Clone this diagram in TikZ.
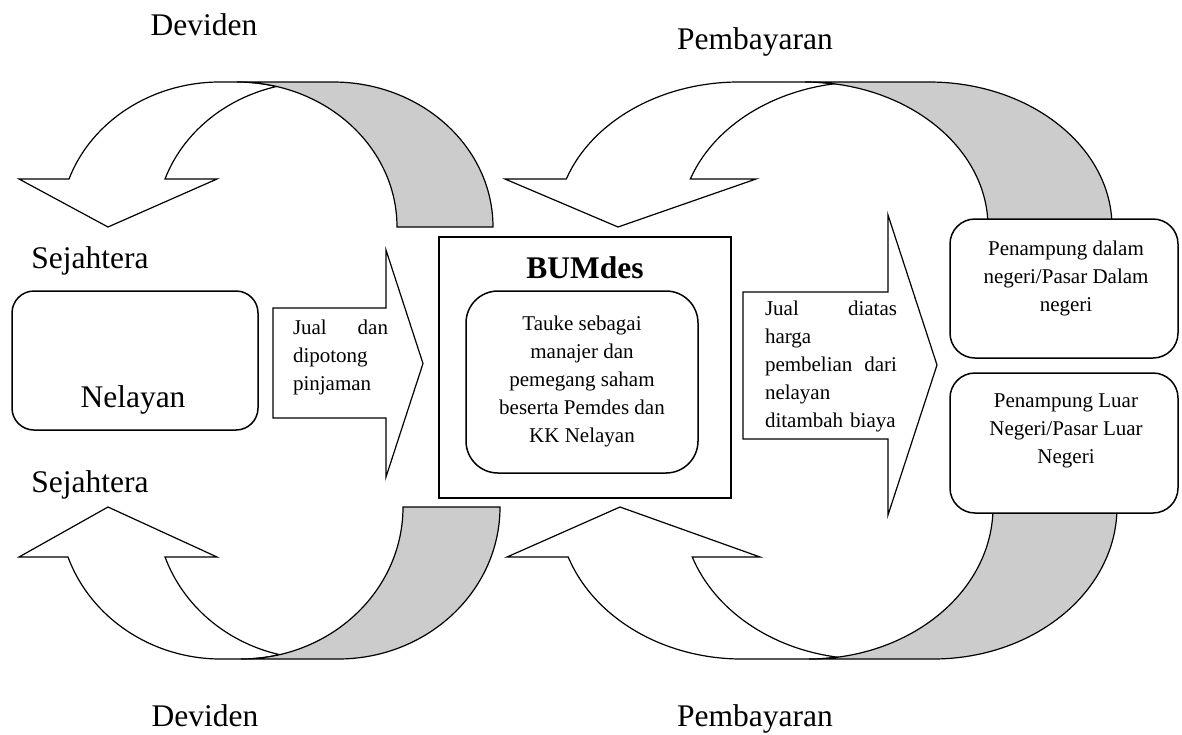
\documentclass[tikz,border=0pt]{standalone}
\usepackage{fontspec}
\setmainfont{Liberation Serif}
\definecolor{shade}{RGB}{204,204,204}
\begin{document}
\begin{tikzpicture}[x=1pt,y=1pt,line join=miter,
  outline/.style={draw=black,line width=1.2pt},
  bigtxt/.style={font=\fontsize{31.5}{36}\selectfont,inner sep=0pt},
  smalltxt/.style={font=\fontsize{21}{28}\selectfont,inner sep=0pt},
  rbox/.style={draw=black,line width=1.5pt,fill=white,inner sep=0pt,rounded corners=25pt}]
\useasboundingbox (0,0) rectangle (1182,-734);
% ---- top-left curved arrow
\path[outline,fill=white] (69,-179) arc[start angle=160.67,end angle=90,x radius=160,y radius=145]
  -- (237,-82) arc[start angle=90,end angle=75.71,x radius=160,y radius=145]
  arc[start angle=104.29,end angle=160.67,x radius=160,y radius=145]
  -- (217,-179) -- (108,-227) -- (19,-179) -- cycle;
\path[outline,fill=shade] (237,-82) arc[start angle=90,end angle=0,x radius=160,y radius=145]
  -- (493,-227) arc[start angle=0,end angle=90,x radius=160,y radius=145] -- cycle;
% ---- top-right curved arrow
\path[outline,fill=white] (566.3,-179) arc[start angle=160.67,end angle=90,x radius=183,y radius=145]
  -- (805,-82) arc[start angle=90,end angle=80.88,x radius=183,y radius=145]
  arc[start angle=99.12,end angle=160.67,x radius=183,y radius=145]
  -- (756,-179) -- (618,-227) -- (505,-179) -- cycle;
\path[outline,fill=shade] (805,-82) arc[start angle=90,end angle=0,x radius=183,y radius=145]
  -- (1112,-227) arc[start angle=0,end angle=90,x radius=183,y radius=145] -- cycle;
% ---- bottom-left curved arrow
\path[outline,fill=white] (68,-557) arc[start angle=199.2,end angle=270,x radius=162,y radius=152]
  -- (241,-659) arc[start angle=270,end angle=283.75,x radius=162,y radius=152]
  arc[start angle=256.25,end angle=199.2,x radius=162,y radius=152]
  -- (217,-557) -- (108,-507) -- (19,-557) -- cycle;
\path[outline,fill=shade] (241,-659) arc[start angle=270,end angle=360,x radius=162,y radius=152]
  -- (500,-507) arc[start angle=360,end angle=270,x radius=162,y radius=152] -- cycle;
% ---- bottom-right curved arrow
\path[outline,fill=white] (568.2,-557) arc[start angle=199.2,end angle=270,x radius=184,y radius=152]
  -- (809,-659) arc[start angle=270,end angle=278.91,x radius=184,y radius=152]
  arc[start angle=261.09,end angle=199.2,x radius=184,y radius=152]
  -- (760,-557) -- (620,-507) -- (507,-557) -- cycle;
\path[outline,fill=shade] (809,-659) arc[start angle=270,end angle=360,x radius=184,y radius=152]
  -- (1117,-507) arc[start angle=360,end angle=270,x radius=184,y radius=152] -- cycle;
% ---- block arrows
\path[outline,fill=white] (273,-308) -- (386,-308) -- (386,-250) -- (423,-363.5)
  -- (386,-477) -- (386,-418) -- (273,-418) -- cycle;
\path[outline,fill=white] (743,-292) -- (888,-292) -- (888,-215) -- (937,-365)
  -- (888,-515) -- (888,-439) -- (743,-439) -- cycle;
% ---- boxes
\node[rbox,rounded corners=22pt,minimum width=246pt,minimum height=139pt] (nelayanbox) at (135,-360.5) {};
\node[draw=black,line width=2pt,fill=white,minimum width=292pt,minimum height=261pt,inner sep=0pt] (bumdes) at (585,-367.5) {};
\node[rbox,rounded corners=32pt,minimum width=232pt,minimum height=182pt] (taukebox) at (582,-382) {};
\node[rbox,minimum width=228pt,minimum height=139pt] (dalambox) at (1064,-288.5) {};
\node[rbox,minimum width=228pt,minimum height=140pt] (luarbox) at (1064,-443) {};
% ---- texts
\node[bigtxt,anchor=base] (nelayan) at (133,-407) {Nelayan};
\node[bigtxt,anchor=base] (bumdestitle) at (585,-278) {\textbf{BUMdes}};
\node[smalltxt,align=center] (tauke) at (582,-381) {Tauke sebagai\\manajer dan\\pemegang saham\\beserta Pemdes dan\\KK Nelayan};
\node[smalltxt,align=center] (dalam) at (1066,-278) {Penampung dalam\\negeri/Pasar Dalam\\negeri};
\node[smalltxt,align=center] (luar) at (1066,-431) {Penampung Luar\\Negeri/Pasar Luar\\Negeri};
\node[smalltxt,align=left,text width=95pt] (jualdan) at (340.5,-357) {\makebox[95pt]{Jual\hfill dan}\\dipotong\\pinjaman};
\node[smalltxt,align=left,text width=132pt] (jualdiatas) at (831,-366.2) {\makebox[132pt]{Jual\hfill diatas}\\harga\\\makebox[132pt]{pembelian\hfill dari}\\nelayan\\ditambah biaya};
\node[bigtxt,anchor=base] (devtop) at (204,-35) {Deviden};
\node[bigtxt,anchor=base] (paytop) at (755,-49) {Pembayaran};
\node[bigtxt,anchor=base] (sejtop) at (90,-268) {Sejahtera};
\node[bigtxt,anchor=base] (sejbot) at (90,-492) {Sejahtera};
\node[bigtxt,anchor=base] (devbot) at (205,-726) {Deviden};
\node[bigtxt,anchor=base] (paybot) at (755,-726) {Pembayaran};
\end{tikzpicture}
\end{document}
